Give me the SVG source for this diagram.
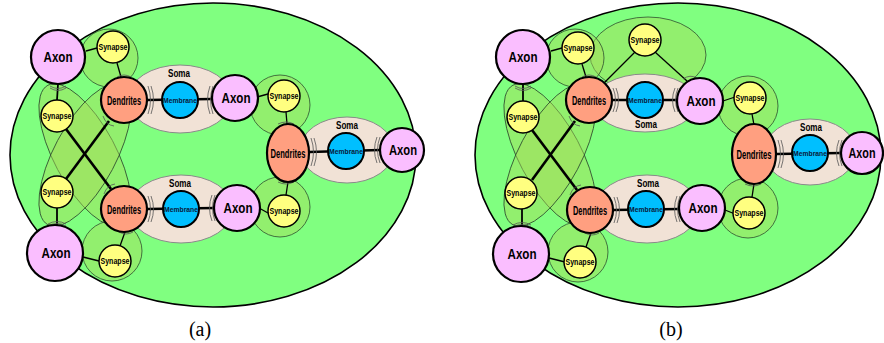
<svg xmlns="http://www.w3.org/2000/svg" width="884" height="343" viewBox="0 0 884 343">
<style>
.bg{fill:#80FF80;stroke:#000;stroke-width:1.6}
.cleft{fill:#a8dc58;fill-opacity:.45;stroke:#2f4f2f;stroke-width:.8}
.soma{fill:#F1E2D6;stroke:#8a8a8a;stroke-width:1}
.axon{fill:#FABEFF;stroke:#000;stroke-width:2.2}
.den{fill:#FF9F80;stroke:#000;stroke-width:2.2}
.mem{fill:#00BFFF;stroke:#000;stroke-width:2}
.syn{fill:#FFFF80;stroke:#000;stroke-width:1.5}
.thin{stroke:#000;stroke-width:1.3;fill:none}
.mid{stroke:#000;stroke-width:1.8;fill:none}
.thick{stroke:#000;stroke-width:2.6;fill:none}
.mark{fill:none;stroke:#555;stroke-width:.8}
text{font-family:"Liberation Sans Narrow","Liberation Sans",Arial,sans-serif;font-weight:bold;text-anchor:middle;fill:#000}
.ta{font-size:15px}
.td{font-size:12.5px}
.ts{font-size:9px}
.tm{font-size:7.5px;fill:#0a1a3a}
.to{font-size:11px}
.cap{font-family:"Liberation Serif","Times New Roman",serif;font-weight:normal;font-size:20px}
</style>

<!-- ===== Panel (a) ===== -->
<g id="panel-a">
  <ellipse id="a-body" class="bg" cx="213" cy="155" rx="203" ry="152"/>
  <g id="a-clefts">
    <ellipse class="cleft" cx="85" cy="155" rx="79" ry="31" transform="rotate(62 85 155)"/>
    <ellipse class="cleft" cx="85" cy="155" rx="79" ry="31" transform="rotate(-62 85 155)"/>
    <circle class="cleft" cx="109" cy="58" r="29"/>
    <circle class="cleft" cx="280" cy="105" r="30"/>
    <circle class="cleft" cx="280" cy="207" r="30"/>
    <circle class="cleft" cx="112" cy="251" r="30"/>
  </g>
  <g id="a-soma1"><ellipse class="soma" cx="180" cy="99" rx="52" ry="34"/><text class="to" x="179" y="77" textLength="22" lengthAdjust="spacingAndGlyphs">Soma</text></g>
  <g id="a-soma2"><ellipse class="soma" cx="181" cy="209" rx="52" ry="34"/><text class="to" x="180" y="187" textLength="22" lengthAdjust="spacingAndGlyphs">Soma</text></g>
  <g id="a-soma3"><ellipse class="soma" cx="347" cy="150" rx="47" ry="33"/><text class="to" x="347" y="129" textLength="22" lengthAdjust="spacingAndGlyphs">Soma</text></g>

  <g id="a-connectors">
    <line class="thin" x1="86" y1="51" x2="97" y2="48"/>
    <line class="thin" x1="117" y1="63" x2="121" y2="77"/>
    <line class="mid" x1="58" y1="84" x2="57" y2="100"/>
    <line class="thick" x1="66" y1="129" x2="111" y2="189"/>
    <line class="thick" x1="66" y1="179" x2="109" y2="121"/>
    <line class="mid" x1="57" y1="208" x2="57" y2="225"/>
    <line class="thin" x1="83" y1="257" x2="99" y2="261"/>
    <line class="thin" x1="120" y1="246" x2="125" y2="232"/>
    <line class="thick" x1="147" y1="100" x2="212" y2="99"/>
    <line class="thick" x1="147" y1="209" x2="214" y2="208"/>
    <line class="thin" x1="257" y1="97" x2="268" y2="94"/>
    <line class="thin" x1="286" y1="112" x2="287" y2="124"/>
    <line class="thin" x1="259" y1="208" x2="268" y2="213"/>
    <line class="thin" x1="286" y1="195" x2="288" y2="182"/>
    <line class="thick" x1="309" y1="152" x2="380" y2="150"/>
    <path class="mark" d="M148 86 Q153 100 148 114 M151 86 Q156 100 151 114"/>
    <path class="mark" d="M213 86 Q208 100 213 114 M210 86 Q205 100 210 114"/>
    <path class="mark" d="M148 196 Q153 209 148 222 M151 196 Q156 209 151 222"/>
    <path class="mark" d="M215 195 Q210 208 215 221 M212 195 Q207 208 212 221"/>
    <path class="mark" d="M311 138 Q316 152 311 166 M314 138 Q319 152 314 166"/>
    <path class="mark" d="M380 137 Q375 150 380 163 M377 137 Q372 150 377 163"/>
    <path class="mark" d="M50 86 Q58 91 66 86 M50 88 Q58 93 66 88"/>
    <path class="mark" d="M48 224 Q57 219 66 224 M48 226 Q57 221 66 226"/>
    <path class="mark" d="M103 116 Q106 125 114 126"/>
    <path class="mark" d="M104 194 Q107 185 115 184"/>
    <path class="mark" d="M117 77 Q124 73 131 77"/>
    <path class="mark" d="M119 232 Q126 236 133 232"/>
    <path class="mark" d="M278 124 Q286 120 294 124"/>
    <path class="mark" d="M278 182 Q286 186 294 182"/>
  </g>

  <g id="a-axon1"><circle class="axon" cx="58" cy="57" r="27"/><text class="ta" x="58" y="62" textLength="29" lengthAdjust="spacingAndGlyphs">Axon</text></g>
  <g id="a-syn1"><circle class="syn" cx="113" cy="47" r="16"/><text class="ts" x="113" y="50" textLength="29" lengthAdjust="spacingAndGlyphs">Synapse</text></g>
  <g id="a-den1"><circle class="den" cx="124" cy="100" r="23"/><text class="td" x="124" y="104.5" textLength="34" lengthAdjust="spacingAndGlyphs">Dendrites</text></g>
  <g id="a-mem1"><circle class="mem" cx="180" cy="100" r="18"/><text class="tm" x="180" y="102.5" textLength="34" lengthAdjust="spacingAndGlyphs">Membrane</text></g>
  <g id="a-axon2"><circle class="axon" cx="235" cy="98" r="23"/><text class="ta" x="236" y="103" textLength="29" lengthAdjust="spacingAndGlyphs">Axon</text></g>
  <g id="a-syn2"><circle class="syn" cx="57" cy="116" r="16"/><text class="ts" x="57" y="119" textLength="29" lengthAdjust="spacingAndGlyphs">Synapse</text></g>
  <g id="a-syn3"><circle class="syn" cx="57" cy="192" r="16"/><text class="ts" x="57" y="195" textLength="29" lengthAdjust="spacingAndGlyphs">Synapse</text></g>
  <g id="a-axon3"><circle class="axon" cx="55" cy="253" r="28"/><text class="ta" x="56" y="258" textLength="29" lengthAdjust="spacingAndGlyphs">Axon</text></g>
  <g id="a-den2"><circle class="den" cx="124" cy="209" r="23"/><text class="td" x="124" y="213.5" textLength="34" lengthAdjust="spacingAndGlyphs">Dendrites</text></g>
  <g id="a-syn4"><circle class="syn" cx="115" cy="261" r="16"/><text class="ts" x="115" y="264" textLength="29" lengthAdjust="spacingAndGlyphs">Synapse</text></g>
  <g id="a-mem2"><circle class="mem" cx="181" cy="209" r="18"/><text class="tm" x="181" y="211.5" textLength="34" lengthAdjust="spacingAndGlyphs">Membrane</text></g>
  <g id="a-axon4"><circle class="axon" cx="237" cy="208" r="23"/><text class="ta" x="238" y="213" textLength="29" lengthAdjust="spacingAndGlyphs">Axon</text></g>
  <g id="a-syn5"><circle class="syn" cx="284" cy="96" r="16"/><text class="ts" x="284" y="99" textLength="29" lengthAdjust="spacingAndGlyphs">Synapse</text></g>
  <g id="a-syn6"><circle class="syn" cx="284" cy="211" r="16"/><text class="ts" x="284" y="214" textLength="29" lengthAdjust="spacingAndGlyphs">Synapse</text></g>
  <g id="a-den3"><ellipse class="den" cx="288" cy="153" rx="21" ry="29"/><text class="td" x="288" y="157.5" textLength="35" lengthAdjust="spacingAndGlyphs">Dendrites</text></g>
  <g id="a-mem3"><circle class="mem" cx="346" cy="151" r="18"/><text class="tm" x="346" y="153.5" textLength="34" lengthAdjust="spacingAndGlyphs">Membrane</text></g>
  <g id="a-axon5"><circle class="axon" cx="402" cy="150" r="22"/><text class="ta" x="403" y="155" textLength="28" lengthAdjust="spacingAndGlyphs">Axon</text></g>
  <text id="a-label" class="cap" x="200" y="336">(a)</text>
</g>

<!-- ===== Panel (b) ===== -->
<g id="panel-b" transform="translate(465,0)">
  <ellipse id="b-body" class="bg" cx="213" cy="155" rx="203" ry="152"/>
  <g id="b-clefts">
    <ellipse class="cleft" cx="85" cy="155" rx="79" ry="31" transform="rotate(62 85 155)"/>
    <ellipse class="cleft" cx="85" cy="155" rx="79" ry="31" transform="rotate(-62 85 155)"/>
    <ellipse class="cleft" cx="183" cy="55" rx="58" ry="38"/>
    <circle class="cleft" cx="110" cy="58" r="29"/>
    <circle class="cleft" cx="283" cy="106" r="30"/>
    <circle class="cleft" cx="283" cy="208" r="30"/>
    <circle class="cleft" cx="113" cy="252" r="30"/>
  </g>
  <g id="b-soma1"><ellipse class="soma" cx="180" cy="103" rx="52" ry="29"/><text class="to" x="181" y="128" textLength="22" lengthAdjust="spacingAndGlyphs">Soma</text></g>
  <g id="b-soma2"><ellipse class="soma" cx="182" cy="209" rx="52" ry="34"/><text class="to" x="183" y="187" textLength="22" lengthAdjust="spacingAndGlyphs">Soma</text></g>
  <g id="b-soma3"><ellipse class="soma" cx="345" cy="152" rx="46" ry="33"/><text class="to" x="346" y="131" textLength="22" lengthAdjust="spacingAndGlyphs">Soma</text></g>

  <g id="b-connectors">
    <line class="thin" x1="86" y1="51" x2="97" y2="48"/>
    <line class="thin" x1="117" y1="64" x2="121" y2="77"/>
    <line class="thin" x1="170" y1="52" x2="139" y2="83"/>
    <line class="thin" x1="190" y1="52" x2="222" y2="81"/>
    <line class="mid" x1="58" y1="84" x2="58" y2="101"/>
    <line class="thick" x1="67" y1="130" x2="112" y2="190"/>
    <line class="thick" x1="67" y1="180" x2="110" y2="121"/>
    <line class="mid" x1="57" y1="209" x2="57" y2="226"/>
    <line class="thin" x1="84" y1="258" x2="100" y2="262"/>
    <line class="thin" x1="121" y1="247" x2="126" y2="233"/>
    <line class="thick" x1="147" y1="100" x2="212" y2="100"/>
    <line class="thick" x1="148" y1="210" x2="214" y2="209"/>
    <line class="thin" x1="258" y1="101" x2="270" y2="97"/>
    <line class="thin" x1="287" y1="114" x2="289" y2="125"/>
    <line class="thin" x1="260" y1="210" x2="270" y2="214"/>
    <line class="thin" x1="287" y1="197" x2="289" y2="184"/>
    <line class="thick" x1="311" y1="154" x2="376" y2="153"/>
    <path class="mark" d="M148 88 Q153 100 148 112 M151 88 Q156 100 151 112"/>
    <path class="mark" d="M213 88 Q208 100 213 112 M210 88 Q205 100 210 112"/>
    <path class="mark" d="M149 197 Q154 210 149 223 M152 197 Q157 210 152 223"/>
    <path class="mark" d="M215 196 Q210 209 215 222 M212 196 Q207 209 212 222"/>
    <path class="mark" d="M313 140 Q318 154 313 168 M316 140 Q321 154 316 168"/>
    <path class="mark" d="M377 140 Q372 153 377 166 M374 140 Q369 153 374 166"/>
    <path class="mark" d="M50 86 Q58 91 66 86 M50 88 Q58 93 66 88"/>
    <path class="mark" d="M48 225 Q57 220 66 225 M48 227 Q57 222 66 227"/>
    <path class="mark" d="M104 116 Q107 125 115 126"/>
    <path class="mark" d="M105 195 Q108 186 116 185"/>
    <path class="mark" d="M117 77 Q124 73 131 77"/>
    <path class="mark" d="M120 233 Q127 237 134 233"/>
    <path class="mark" d="M280 126 Q288 122 296 126"/>
    <path class="mark" d="M280 184 Q288 188 296 184"/>
    <path class="mark" d="M218 79 Q225 74 232 78"/>
  </g>

  <g id="b-axon1"><circle class="axon" cx="58" cy="57" r="27"/><text class="ta" x="58" y="62" textLength="29" lengthAdjust="spacingAndGlyphs">Axon</text></g>
  <g id="b-syn1"><circle class="syn" cx="113" cy="48" r="16"/><text class="ts" x="113" y="51" textLength="29" lengthAdjust="spacingAndGlyphs">Synapse</text></g>
  <g id="b-syn7"><circle class="syn" cx="180" cy="40" r="16"/><text class="ts" x="180" y="43" textLength="29" lengthAdjust="spacingAndGlyphs">Synapse</text></g>
  <g id="b-den1"><circle class="den" cx="124" cy="100" r="23"/><text class="td" x="124" y="104.5" textLength="34" lengthAdjust="spacingAndGlyphs">Dendrites</text></g>
  <g id="b-mem1"><circle class="mem" cx="180" cy="100" r="18"/><text class="tm" x="180" y="102.5" textLength="34" lengthAdjust="spacingAndGlyphs">Membrane</text></g>
  <g id="b-axon2"><circle class="axon" cx="235" cy="101" r="23"/><text class="ta" x="236" y="106" textLength="29" lengthAdjust="spacingAndGlyphs">Axon</text></g>
  <g id="b-syn2"><circle class="syn" cx="58" cy="117" r="16"/><text class="ts" x="58" y="120" textLength="29" lengthAdjust="spacingAndGlyphs">Synapse</text></g>
  <g id="b-syn3"><circle class="syn" cx="56" cy="193" r="16"/><text class="ts" x="56" y="196" textLength="29" lengthAdjust="spacingAndGlyphs">Synapse</text></g>
  <g id="b-axon3"><circle class="axon" cx="56" cy="254" r="28"/><text class="ta" x="57" y="259" textLength="29" lengthAdjust="spacingAndGlyphs">Axon</text></g>
  <g id="b-den2"><circle class="den" cx="125" cy="210" r="23"/><text class="td" x="125" y="214.5" textLength="34" lengthAdjust="spacingAndGlyphs">Dendrites</text></g>
  <g id="b-syn4"><circle class="syn" cx="115" cy="262" r="16"/><text class="ts" x="115" y="265" textLength="29" lengthAdjust="spacingAndGlyphs">Synapse</text></g>
  <g id="b-mem2"><circle class="mem" cx="181" cy="209" r="18"/><text class="tm" x="181" y="211.5" textLength="34" lengthAdjust="spacingAndGlyphs">Membrane</text></g>
  <g id="b-axon4"><circle class="axon" cx="237" cy="208" r="23"/><text class="ta" x="238" y="213" textLength="29" lengthAdjust="spacingAndGlyphs">Axon</text></g>
  <g id="b-syn5"><circle class="syn" cx="285" cy="98" r="16"/><text class="ts" x="285" y="101" textLength="29" lengthAdjust="spacingAndGlyphs">Synapse</text></g>
  <g id="b-syn6"><circle class="syn" cx="284" cy="213" r="16"/><text class="ts" x="284" y="216" textLength="29" lengthAdjust="spacingAndGlyphs">Synapse</text></g>
  <g id="b-den3"><ellipse class="den" cx="289" cy="154" rx="22" ry="30"/><text class="td" x="289" y="158.5" textLength="35" lengthAdjust="spacingAndGlyphs">Dendrites</text></g>
  <g id="b-mem3"><circle class="mem" cx="345" cy="153" r="18"/><text class="tm" x="345" y="155.5" textLength="34" lengthAdjust="spacingAndGlyphs">Membrane</text></g>
  <g id="b-axon5"><circle class="axon" cx="397" cy="153" r="21"/><text x="397" y="158" style="font-size:14px" textLength="27" lengthAdjust="spacingAndGlyphs">Axon</text></g>
  <text id="b-label" class="cap" x="206" y="336">(b)</text>
</g>
</svg>
